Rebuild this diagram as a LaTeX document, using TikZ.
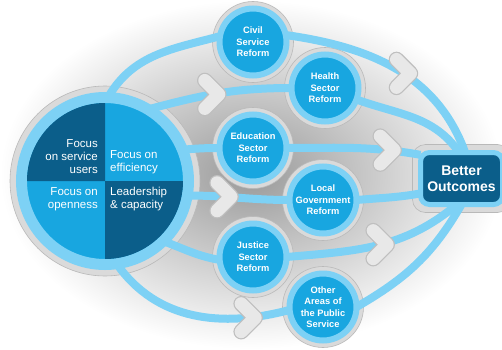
\documentclass[tikz,border=0pt]{standalone}
\usepackage{fontspec}
\setmainfont{Liberation Sans}
\usetikzlibrary{positioning,decorations.markings}
\definecolor{ringblue}{RGB}{125,209,245}
\definecolor{ballblue}{RGB}{24,166,224}
\definecolor{deepblue}{RGB}{11,94,138}
\definecolor{halogrey}{RGB}{218,218,218}
\definecolor{chevgrey}{RGB}{232,232,232}
\pgfdeclarelayer{back}
\pgfdeclarelayer{links}
\pgfsetlayers{back,links,main}
\tikzset{
  reform/.style={shape=circle, draw=ringblue, line width=6pt, fill=ballblue, minimum size=67pt, inner sep=0pt, outer sep=0pt, align=center, text=white, font=\bfseries\fontsize{9.3}{11.5}\selectfont},
  quad/.style={inner sep=0pt, text=white, font=\fontsize{11.5}{13}\selectfont},
  link/.style={draw=ringblue, line width=8pt},
  halo/.style={fill=halogrey, draw=gray!55, line width=0.6pt},
  chev/.pic={
    \draw[line width=15.5pt, gray!50, line cap=round, line join=round] (-7,14) -- (7,0) -- (-7,-14);
    \draw[line width=13pt, chevgrey, line cap=round, line join=round] (-7,14) -- (7,0) -- (-7,-14);
  },
  chevat/.style={postaction={decorate, decoration={markings, mark=at position #1 with {\pic{chev};}}}}
}
\begin{document}
\begin{tikzpicture}[x=1pt, y=1pt]
  \useasboundingbox (0,0) rectangle (502,349);
  % the four focus areas
  \node[circle, draw=ringblue, line width=11pt, fill=ballblue, minimum size=167pt, outer sep=0pt] (focus) at (105,168) {};
  \fill[deepblue] (focus.center) -- ++(-78,0) arc[start angle=180, end angle=90, radius=78pt] -- cycle;
  \fill[deepblue] (focus.center) -- ++(78,0) arc[start angle=0, end angle=-90, radius=78pt] -- cycle;
  \node[quad, align=right, above left=7pt and 7pt of focus.center] (users) {Focus\\on service\\users};
  \node[quad, align=left, above right=7pt and 5pt of focus.center] (effic) {Focus on\\efficiency};
  \node[quad, align=right, below left=6pt and 7pt of focus.center] (open) {Focus on\\openness};
  \node[quad, align=left, below right=6pt and 5pt of focus.center] (lead) {Leadership\\\& capacity};
  % reform circles
  \path (253,307) node[reform] (civil) {Civil\\Service\\Reform}
    (325,261) node[reform] (health) {Health\\Sector\\Reform}
    (253,201) node[reform] (educ) {Education\\Sector\\Reform}
    (323,149) node[reform] (local) {Local\\Government\\Reform}
    (253,92) node[reform] (justice) {Justice\\Sector\\Reform}
    (323,42) node[reform] (other) {Other\\Areas of\\the Public\\Service};
  \node[rectangle, rounded corners=9pt, draw=ringblue, line width=5pt, fill=deepblue, minimum width=82pt, minimum height=52pt, outer sep=0pt, align=center, text=white, font=\bfseries\fontsize{14}{15.5}\selectfont] (better) at (461.5,170.5) {Better\\Outcomes};
  \begin{pgfonlayer}{back}
    \shade[inner color=gray!80, outer color=white] (0,0) rectangle (502,349);
    \path[halo] (focus) circle (95pt);
    \foreach \n in {civil,health,educ,local,justice,other}
      \path[halo] (\n) circle (40.5pt);
    \path[halo, rounded corners=13pt] ([shift={(-8,-8)}]better.south west) rectangle ([shift={(8,8)}]better.north east);
  \end{pgfonlayer}
  \begin{pgfonlayer}{links}
    \draw[link] (focus.88) to[out=60, in=195] (civil.170);
    \draw[link, chevat=0.55] (civil.12) to[out=-8, in=110] (better.82);
    \draw[link] (health.-20) to[out=-20, in=125] (better.95);
    \draw[link, chevat=0.45] (focus.59) to[out=15, in=180] (health.west);
    \draw[link] (focus.22) to[out=5, in=180] (educ.west);
    \draw[link, chevat=0.75] (educ.east) to[out=0, in=170] (better.150);
    \draw[link, chevat=0.36] (focus.-10) to[out=0, in=180] (local.west);
    \draw[link] (local.east) to[out=5, in=190] (better.200);
    \draw[link] (focus.-46) to[out=-20, in=170] (justice.185);
    \draw[link, chevat=0.52] (justice.east) to[out=5, in=-140] (better.-100);
    \draw[link, chevat=0.78] (focus.-82) to[out=-55, in=195] (other.185);
    \draw[link] (other.east) to[out=30, in=-120] (better.-90);
  \end{pgfonlayer}
\end{tikzpicture}
\end{document}
